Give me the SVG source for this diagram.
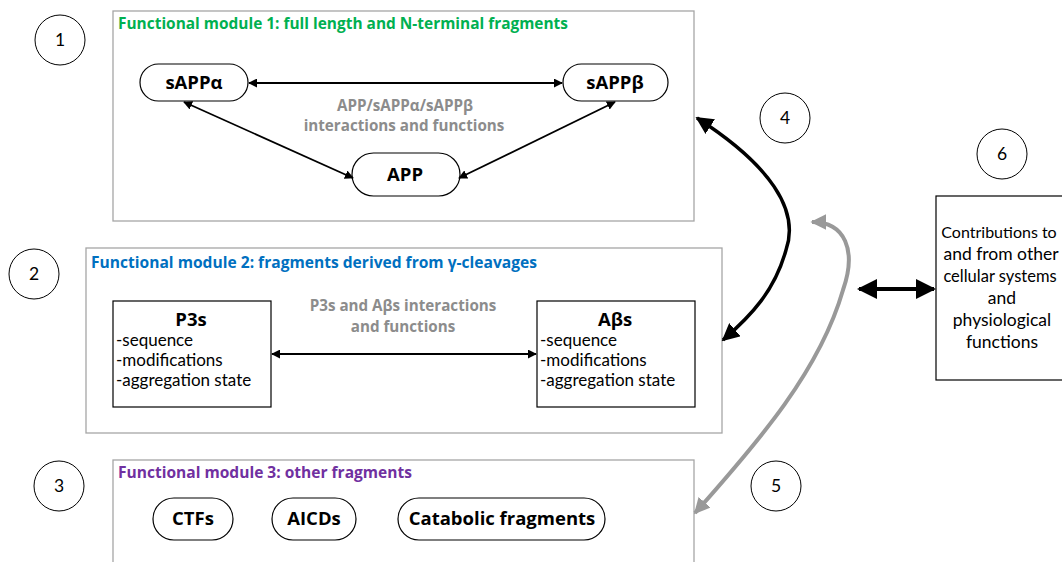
<svg xmlns="http://www.w3.org/2000/svg" width="1062" height="562" viewBox="0 0 1062 562">
<style>
.mod{fill:#fff;stroke:#a6a6a6;stroke-width:1.3}
.pill{fill:#fff;stroke:#000;stroke-width:1.2}
.box{fill:#fff;stroke:#000;stroke-width:1.2}
.num{fill:#fff;stroke:#000;stroke-width:1}
.title{font-family:"Open Sans","Liberation Sans",sans-serif;font-weight:bold;font-size:15.5px}
.lbl{font-family:"Open Sans","Liberation Sans",sans-serif;font-weight:bold;font-size:18.5px;text-anchor:middle}
.gray{font-family:"Open Sans","Liberation Sans",sans-serif;font-weight:bold;font-size:15.2px;fill:#8c8c8c;text-anchor:middle}
.body{font-family:Lato,"Open Sans",sans-serif;font-size:17px}
.n{font-family:Lato,"Open Sans",sans-serif;font-size:17.5px;text-anchor:middle}
.c{fill:none;stroke:#000;stroke-width:1.8}
</style>
<defs>
<marker id="ah" viewBox="0 0 10 10" refX="9" refY="5" markerWidth="5" markerHeight="5" orient="auto-start-reverse" markerUnits="strokeWidth">
<path d="M0,0 L10,5 L0,10 z" fill="#000"/>
</marker>
<marker id="ahb" viewBox="0 0 10 10" refX="9" refY="5" markerWidth="5" markerHeight="5" orient="auto-start-reverse" markerUnits="strokeWidth">
<path d="M0,0 L10,5 L0,10 z" fill="#000"/>
</marker>
<marker id="ahg" viewBox="0 0 10 10" refX="9" refY="5" markerWidth="4" markerHeight="4" orient="auto-start-reverse" markerUnits="strokeWidth">
<path d="M0,0 L10,5 L0,10 z" fill="#999"/>
</marker>
</defs>

<g id="module1">
<rect class="mod" x="113" y="11" width="581" height="210"/>
<text class="title" x="118" y="29" fill="#00b050" textLength="450" lengthAdjust="spacingAndGlyphs">Functional module 1: full length and N-terminal fragments</text>
<text class="gray" x="405" y="111">APP/sAPPα/sAPPβ</text>
<text class="gray" x="404" y="131">interactions and functions</text>
</g>
<g id="sAPPa">
<rect class="pill" x="140" y="64" width="108" height="37" rx="18.5"/>
<text class="lbl" x="194" y="89">sAPPα</text>
</g>
<g id="sAPPb">
<rect class="pill" x="563" y="64" width="105" height="37" rx="18.5"/>
<text class="lbl" x="615" y="89">sAPPβ</text>
</g>
<g id="APP">
<rect class="pill" x="352" y="153" width="108" height="43" rx="21.5"/>
<text class="lbl" x="405" y="181">APP</text>
</g>

<g id="module2">
<rect class="mod" x="86" y="248" width="636" height="185"/>
<text class="title" x="91" y="268" fill="#0070c0" textLength="446" lengthAdjust="spacingAndGlyphs">Functional module 2: fragments derived from γ-cleavages</text>
<text class="gray" x="403" y="311">P3s and Aβs interactions</text>
<text class="gray" x="403" y="332">and functions</text>
</g>
<g id="P3s">
<rect class="box" x="113" y="301" width="158" height="106"/>
<text class="lbl" x="191" y="326">P3s</text>
<text class="body" x="116" y="346">-sequence</text>
<text class="body" x="116" y="366">-modifications</text>
<text class="body" x="116" y="386">-aggregation state</text>
</g>
<g id="Abs">
<rect class="box" x="537" y="301" width="158" height="106"/>
<text class="lbl" x="615" y="326">Aβs</text>
<text class="body" x="540" y="346">-sequence</text>
<text class="body" x="540" y="366">-modifications</text>
<text class="body" x="540" y="386">-aggregation state</text>
</g>

<g id="module3">
<rect class="mod" x="113" y="460" width="581" height="120"/>
<text class="title" x="118" y="478" fill="#7030a0" textLength="294" lengthAdjust="spacingAndGlyphs">Functional module 3: other fragments</text>
</g>
<g id="CTFs">
<rect class="pill" x="153" y="498" width="80" height="42" rx="21"/>
<text class="lbl" x="193" y="525">CTFs</text>
</g>
<g id="AICDs">
<rect class="pill" x="272" y="498" width="84" height="42" rx="21"/>
<text class="lbl" x="314" y="525">AICDs</text>
</g>
<g id="Catabolic">
<rect class="pill" x="398" y="498" width="207" height="42" rx="21"/>
<text class="lbl" x="502" y="525">Catabolic fragments</text>
</g>

<g id="box6">
<rect class="box" x="936" y="196" width="140" height="184"/>
<text class="n" x="999" y="238" style="font-size:16px">Contributions to</text>
<text class="n" x="1001" y="260">and from other</text>
<text class="n" x="1000" y="282" style="font-size:16.5px">cellular systems</text>
<text class="n" x="1002" y="304">and</text>
<text class="n" x="1002" y="326">physiological</text>
<text class="n" x="1002" y="348">functions</text>
</g>

<g id="num1"><circle class="num" cx="60" cy="40" r="25"/><text class="n" x="60" y="46">1</text></g>
<g id="num2"><circle class="num" cx="34" cy="274" r="25"/><text class="n" x="34" y="280">2</text></g>
<g id="num3"><circle class="num" cx="59" cy="486" r="25"/><text class="n" x="59" y="492">3</text></g>
<g id="num4"><circle class="num" cx="785" cy="118" r="25"/><text class="n" x="785" y="124">4</text></g>
<g id="num5"><circle class="num" cx="776" cy="486" r="25"/><text class="n" x="776" y="492">5</text></g>
<g id="num6"><circle class="num" cx="1002" cy="154" r="25"/><text class="n" x="1002" y="160">6</text></g>

<g id="connectors">
<line class="c" x1="249" y1="83" x2="562" y2="83" marker-start="url(#ah)" marker-end="url(#ah)"/>
<line class="c" x1="184" y1="102" x2="353" y2="178" marker-start="url(#ah)" marker-end="url(#ah)"/>
<line class="c" x1="615" y1="102" x2="459" y2="178" marker-start="url(#ah)" marker-end="url(#ah)"/>
<line class="c" x1="272" y1="354" x2="536" y2="354" marker-start="url(#ah)" marker-end="url(#ah)"/>
<path d="M697,118 C770,165 800,210 786,250 C775,290 752,315 723,340" fill="none" stroke="#000" stroke-width="3.5" marker-start="url(#ahb)" marker-end="url(#ahb)"/>
<path d="M812,222 C845,222 857,250 843,290 C820,370 760,440 695,513" fill="none" stroke="#999" stroke-width="4" marker-start="url(#ahg)" marker-end="url(#ahg)"/>
<line x1="859" y1="289" x2="934" y2="289" stroke="#000" stroke-width="4" marker-start="url(#ahb)" marker-end="url(#ahb)"/>
</g>
</svg>
